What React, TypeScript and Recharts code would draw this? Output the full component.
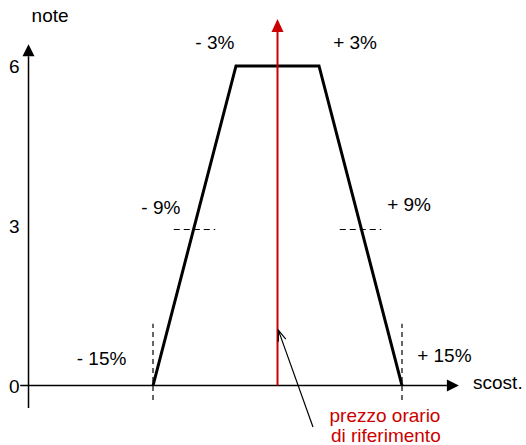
import { LineChart, Line, XAxis, YAxis, ReferenceLine, ReferenceDot } from 'recharts';

const WIDTH = 526;
const HEIGHT = 445;

// x is schematic: -3 = -15%, -1 = -3%, 1 = +3%, 3 = +15%
const trapX = [-3, -1, 1, 3];
const trapNote = [0, 6, 6, 0];
const yTicks = [0, 3, 6];

// dashed markers
const baseGuideX = [-3, 3];
const baseGuideSpan = [-0.27, 1.16];
const midGuideX = [-2, 2];
const midGuideNote = 2.93;
const midGuideHalf = 0.5;

// axes and arrows (chart units)
const yAxisX = -6;
const yAxisSpan = [-0.42, 6.41];
const xAxisSpan = [-6.2, 4.37];
const refX = 0;
const refTop = 6.88;
const pointerFrom = { x: 0.855, y: -0.78 };
const pointerTo = { x: 0.02, y: 1.04 };

// text labels, anchored at their baseline centre
const pctLabels = ['- 15%', '- 9%', '- 3%', '+ 3%', '+ 9%', '+ 15%'];
const pctLabelX = [-4.24, -2.81, -1.51, 1.87, 3.17, 4.02];
const pctLabelY = [0.39, 3.22, 6.32, 6.32, 3.28, 0.45];
const yTitle = { text: 'note', x: -5.48, y: 6.83 };
const xTitle = { text: 'scost.', x: 5.31, y: -0.07 };
const refLabel = ['prezzo orario', 'di riferimento'];
const refLabelX = [2.59, 2.61];
const refLabelY = [-0.685, -1.07];

const RED = '#cc0000';
const FONT = '"Liberation Sans", Arial, sans-serif';

const data = trapX.map((x, i) => ({ x, note: trapNote[i] }));

function arrowShape(kind: 'filled' | 'open', len: number, half: number) {
  return (p: any) => {
    const { x1, y1, x2, y2, stroke, strokeWidth } = p;
    const a = Math.atan2(y2 - y1, x2 - x1);
    const bx = x2 - len * Math.cos(a);
    const by = y2 - len * Math.sin(a);
    const nx = -Math.sin(a) * half;
    const ny = Math.cos(a) * half;
    if (kind === 'filled') {
      return (
        <g>
          <line x1={x1} y1={y1} x2={bx} y2={by} stroke={stroke} strokeWidth={strokeWidth} />
          <polygon
            points={`${x2},${y2} ${bx + nx},${by + ny} ${bx - nx},${by - ny}`}
            fill={stroke}
            stroke="none"
          />
        </g>
      );
    }
    return (
      <g fill="none" stroke={stroke} strokeWidth={strokeWidth}>
        <line x1={x1} y1={y1} x2={x2} y2={y2} />
        <polyline points={`${bx + nx},${by + ny} ${x2},${y2} ${bx - nx},${by - ny}`} />
      </g>
    );
  };
}

function textShape(text: string, color = '#000', anchor: 'start' | 'middle' | 'end' = 'middle', dx = 0, dy = 0) {
  return (p: any) => (
    <text
      x={p.cx + dx}
      y={p.cy + dy}
      textAnchor={anchor}
      fill={color}
      fontSize={19}
      fontFamily={FONT}
    >
      {text}
    </text>
  );
}

export default function App() {
  return (
    <div style={{ position: 'absolute', left: 0, top: 0, background: '#fff' }}>
      <LineChart width={WIDTH} height={HEIGHT} data={data} margin={{ top: 0, right: 0, bottom: 0, left: 0 }}>
        <XAxis dataKey="x" type="number" domain={[-6.687, 5.988]} allowDataOverflow hide />
        <YAxis type="number" domain={[-1.117, 7.239]} allowDataOverflow hide />

        {/* axes */}
        <ReferenceLine
          segment={[{ x: yAxisX, y: yAxisSpan[0] }, { x: yAxisX, y: yAxisSpan[1] }]}
          stroke="#000"
          strokeWidth={1.5}
          shape={arrowShape('filled', 12, 6)}
        />
        <ReferenceLine
          segment={[{ x: xAxisSpan[0], y: 0 }, { x: xAxisSpan[1], y: 0 }]}
          stroke="#000"
          strokeWidth={1.5}
          shape={arrowShape('filled', 12, 6)}
        />

        {/* dashed guides */}
        {baseGuideX.map((gx) => (
          <ReferenceLine
            key={`bg-${gx}`}
            segment={[{ x: gx, y: baseGuideSpan[0] }, { x: gx, y: baseGuideSpan[1] }]}
            stroke="#000"
            strokeWidth={1.2}
            strokeDasharray="5 4"
          />
        ))}
        {midGuideX.map((gx) => (
          <ReferenceLine
            key={`mg-${gx}`}
            segment={[
              { x: gx - midGuideHalf, y: midGuideNote },
              { x: gx + midGuideHalf, y: midGuideNote },
            ]}
            stroke="#000"
            strokeWidth={1.2}
            strokeDasharray="6 4"
          />
        ))}

        <Line
          dataKey="note"
          stroke="#000"
          strokeWidth={3}
          strokeLinejoin="miter"
          dot={false}
          activeDot={false}
          isAnimationActive={false}
        />

        {/* reference price */}
        <ReferenceLine
          segment={[{ x: refX, y: 0 }, { x: refX, y: refTop }]}
          stroke={RED}
          strokeWidth={2}
          shape={arrowShape('filled', 13, 6)}
        />
        <ReferenceLine
          segment={[pointerFrom, pointerTo]}
          stroke="#000"
          strokeWidth={1.2}
          shape={arrowShape('open', 11, 4)}
        />

        {/* tick labels */}
        {yTicks.map((t) => (
          <ReferenceDot key={`yt-${t}`} x={yAxisX} y={t} r={0} shape={textShape(String(t), '#000', 'end', -9, 7)} />
        ))}

        {pctLabels.map((txt, i) => (
          <ReferenceDot key={txt} x={pctLabelX[i]} y={pctLabelY[i]} r={0} shape={textShape(txt)} />
        ))}
        <ReferenceDot x={yTitle.x} y={yTitle.y} r={0} shape={textShape(yTitle.text)} />
        <ReferenceDot x={xTitle.x} y={xTitle.y} r={0} shape={textShape(xTitle.text)} />
        {refLabel.map((txt, i) => (
          <ReferenceDot key={txt} x={refLabelX[i]} y={refLabelY[i]} r={0} shape={textShape(txt, RED)} />
        ))}
      </LineChart>
    </div>
  );
}
